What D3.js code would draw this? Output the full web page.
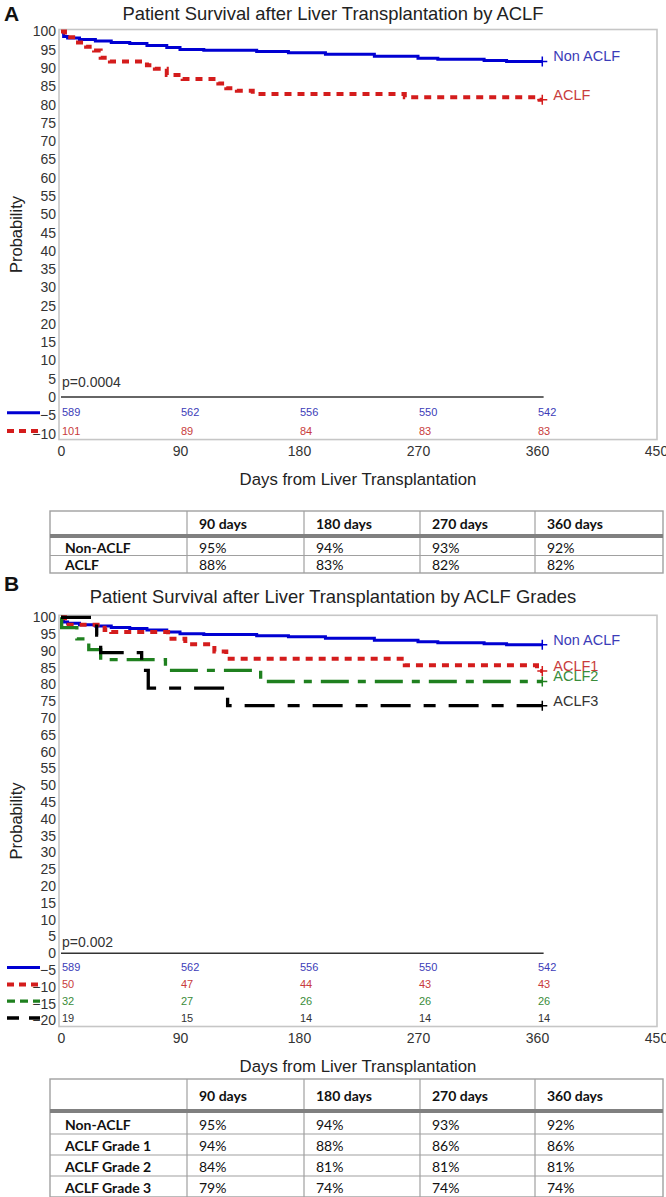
<!DOCTYPE html>
<html><head><meta charset="utf-8">
<script src="https://cdn.jsdelivr.net/npm/d3@7"></script>
<style>
body{margin:0;background:#fff}
svg{display:block}
</style>
</head><body>
<svg id="c" width="666" height="1197"></svg>
<script>
// ---------------- data ----------------
const xTicks = [0, 90, 180, 270, 360, 450];
const riskDays = [0, 90, 180, 270, 360];
const endDay = 364;
const yTicksA = [100,95,90,85,80,75,70,65,60,55,50,45,40,35,30,25,20,15,10,5,0,-5,-10];
const yTicksB = [100,95,90,85,80,75,70,65,60,55,50,45,40,35,30,25,20,15,10,5,0,-5,-10,-15,-20];

// Kaplan-Meier step points [day, survival %]
const nonAclf = [[0,100],[2,98.6],[5,98.2],[14,97.8],[26,97.4],[38,97.0],[52,96.7],[65,96.2],[80,95.6],[90,95.1],[108,94.9],[148,94.5],[172,94.2],[200,93.8],[237,93.2],[270,92.7],[285,92.4],[320,92.1],[337,91.8]];
const aclf = [[0,100],[3,98.4],[11,97.0],[19,95.8],[25,94.8],[30,92.8],[37,91.8],[65,90.8],[71,89.8],[80,88.1],[92,87.0],[119,85.8],[125,84.5],[133,83.8],[145,82.9],[260,82.0],[362,81.3]];
const aclf1 = [[0,100],[3,97.8],[33,96.2],[38,95.6],[81,93.6],[94,92.0],[116,89.8],[125,87.7],[260,85.7],[360,84.0]];
const aclf2 = [[0,100],[0.5,96.9],[12,93.6],[21,90.4],[30,87.4],[79,84.2],[151,80.9]];
const aclf3 = [[0,100],[27,94.7],[30,89.5],[61,84.2],[66,78.9],[126,73.7]];

// numbers at risk
const riskNonAclf = [589, 562, 556, 550, 542];
const riskAclf = [101, 89, 84, 83, 83];
const riskG1 = [50, 47, 44, 43, 43];
const riskG2 = [32, 27, 26, 26, 26];
const riskG3 = [19, 15, 14, 14, 14];

// tables
const tableCols = ["90 days", "180 days", "270 days", "360 days"];
const tableARows = ["Non-ACLF", "ACLF"];
const tableBRows = ["Non-ACLF", "ACLF Grade 1", "ACLF Grade 2", "ACLF Grade 3"];
const survNonAclf = [95, 94, 93, 92];
const survAclf = [88, 83, 82, 82];
const survG1 = [94, 88, 86, 86];
const survG2 = [84, 81, 81, 81];
const survG3 = [79, 74, 74, 74];

// ---------------- drawing ----------------
const FONT = '"Liberation Sans", Arial, sans-serif';
const TFONT = 'Lato, "Open Sans", sans-serif';
const svg = d3.select("#c");
svg.append("rect").attr("width",666).attr("height",1197).attr("fill","#fff");
const x = d3.scaleLinear().domain([0, 450]).range([61, 656]);

const BLUE = {line:"#0000d2", text:"#3c3cb8", dash:null, w:3, legDash:null};
const RED = {line:"#d41c1c", text:"#c83c3c", dash:"7,6", w:4, legDash:"7,5"};
const GREEN = {line:"#1f801f", text:"#3a8c3a", dash:"28,9,8,9", w:3.3, legDash:"8,5"};
const BLACK = {line:"#000", text:"#333", dash:"30,13,12,13", w:3.3, legDash:"12,10"};

function panel(p) {
  const y = d3.scaleLinear().domain([0, 100]).range([p.y0, p.y100]);
  const yMin = d3.min(p.yTicks);
  const top = y(100) - 2, bottom = y(yMin) + 6;
  const g = svg.append("g");

  g.append("text").attr("x", 4).attr("y", p.letterY).attr("font-family", FONT)
    .attr("font-weight", "bold").attr("font-size", 21).attr("fill", "#111").text(p.letter);
  g.append("text").attr("x", 333).attr("y", p.titleY).attr("text-anchor", "middle")
    .attr("font-family", FONT).attr("font-size", 18.4).attr("fill", "#222").text(p.title);

  g.append("rect").attr("x", 59).attr("y", top).attr("width", 598).attr("height", bottom - top)
    .attr("fill", "none").attr("stroke", "#c6c6c6").attr("stroke-width", 1.6);

  const ya = g.append("g").attr("transform", "translate(59,0)")
    .call(d3.axisLeft(y).tickValues(p.yTicks).tickSize(0).tickPadding(3).tickFormat(d3.format("d")));
  ya.select(".domain").remove();
  ya.attr("font-family", FONT).attr("font-size", 14);
  ya.selectAll("text").attr("fill", "#333");

  const xa = g.append("g").attr("transform", `translate(0,${bottom})`)
    .call(d3.axisBottom(x).tickValues(xTicks).tickSize(0).tickPadding(7));
  xa.select(".domain").remove();
  xa.attr("font-family", FONT).attr("font-size", 14);
  xa.selectAll("text").attr("fill", "#333");

  g.append("text").attr("transform", `translate(22,${(top + bottom) / 2}) rotate(-90)`)
    .attr("text-anchor", "middle").attr("font-family", FONT).attr("font-size", 16.5)
    .attr("fill", "#222").text("Probability");
  g.append("text").attr("x", 358).attr("y", bottom + 45).attr("text-anchor", "middle")
    .attr("font-family", FONT).attr("font-size", 16.8).attr("fill", "#222")
    .text("Days from Liver Transplantation");

  g.append("line").attr("x1", x(0)).attr("x2", x(365)).attr("y1", y(0)).attr("y2", y(0))
    .attr("stroke", "#333").attr("stroke-width", 1.5);
  g.append("text").attr("x", x(0) + 1).attr("y", y(p.pAt)).attr("dominant-baseline", "central")
    .attr("font-family", FONT).attr("font-size", 14).attr("fill", "#333").text(p.pText);

  const line = d3.line().x(d => x(d[0])).y(d => y(d[1])).curve(d3.curveStepAfter);
  p.series.forEach((s, i) => {
    const last = s.data[s.data.length - 1][1];
    const pts = s.data.concat([[endDay, last]]);
    const path = g.append("path").attr("d", line(pts)).attr("fill", "none")
      .attr("stroke", s.st.line).attr("stroke-width", s.st.w);
    if (s.st.dash) path.attr("stroke-dasharray", s.st.dash);
    const cx = x(endDay), cy = y(last);
    g.append("path").attr("d", `M${cx - 5},${cy}H${cx + 5}M${cx},${cy - 5}V${cy + 5}`)
      .attr("stroke", s.st.line).attr("stroke-width", 1.5);
    g.append("text").attr("x", cx + 11).attr("y", cy - 5).attr("dominant-baseline", "central")
      .attr("font-family", FONT).attr("font-size", 14.5).attr("fill", s.st.text).text(s.label);

    const ry = y(-5 * (i + 1));
    const leg = g.append("line").attr("x1", 7).attr("x2", 40).attr("y1", ry - 2.5).attr("y2", ry - 2.5)
      .attr("stroke", s.st.line).attr("stroke-width", s.st.w);
    if (s.st.legDash) leg.attr("stroke-dasharray", s.st.legDash);
    s.risk.forEach((v, j) => {
      g.append("text").attr("x", x(riskDays[j]) + 1).attr("y", ry - 3).attr("dominant-baseline", "central")
        .attr("font-family", FONT).attr("font-size", 11).attr("fill", s.st.text).text(v);
    });
  });
}

panel({
  letter: "A", letterY: 21, title: "Patient Survival after Liver Transplantation by ACLF", titleY: 20,
  y0: 397, y100: 31.5, yTicks: yTicksA, pAt: 4, pText: "p=0.0004",
  series: [
    {data: nonAclf, st: BLUE, label: "Non ACLF", risk: riskNonAclf},
    {data: aclf, st: RED, label: "ACLF", risk: riskAclf}
  ]
});
panel({
  letter: "B", letterY: 591, title: "Patient Survival after Liver Transplantation by ACLF Grades", titleY: 603,
  y0: 953.3, y100: 617.3, yTicks: yTicksB, pAt: 3.5, pText: "p=0.002",
  series: [
    {data: nonAclf, st: BLUE, label: "Non ACLF", risk: riskNonAclf},
    {data: aclf1, st: RED, label: "ACLF1", risk: riskG1},
    {data: aclf2, st: GREEN, label: "ACLF2", risk: riskG2},
    {data: aclf3, st: BLACK, label: "ACLF3", risk: riskG3}
  ]
});

function table(top, headH, rowH, names, vals) {
  const cols = [50, 187, 304, 420, 535, 663];
  const g = svg.append("g");
  const thick = top + headH;
  const bodyTop = thick + 4;
  const bottom = bodyTop + rowH * names.length;
  tableCols.forEach((c, j) => {
    g.append("text").attr("x", cols[j + 1] + 12).attr("y", top + headH / 2 + 1)
      .attr("dominant-baseline", "central").attr("font-family", TFONT).attr("font-weight", "bold")
      .attr("font-size", 14).attr("fill", "#111").text(c);
  });
  names.forEach((n, i) => {
    const cy = bodyTop + rowH * i + rowH / 2 + 0.5;
    g.append("text").attr("x", cols[0] + 15).attr("y", cy).attr("dominant-baseline", "central")
      .attr("font-family", TFONT).attr("font-weight", "bold").attr("font-size", 14).attr("fill", "#111").text(n);
    vals[i].forEach((v, j) => {
      g.append("text").attr("x", cols[j + 1] + 12).attr("y", cy).attr("dominant-baseline", "central")
        .attr("font-family", TFONT).attr("font-size", 14).attr("fill", "#111").text(v + "%");
    });
    if (i > 0) g.append("line").attr("x1", cols[0]).attr("x2", cols[5]).attr("y1", bodyTop + rowH * i)
      .attr("y2", bodyTop + rowH * i).attr("stroke", "#a0a0a0").attr("stroke-width", 1.2);
  });
  cols.slice(1, 5).forEach(cx => {
    g.append("line").attr("x1", cx).attr("x2", cx).attr("y1", top).attr("y2", bottom)
      .attr("stroke", "#a0a0a0").attr("stroke-width", 1.2);
  });
  g.append("rect").attr("x", cols[0]).attr("y", top).attr("width", cols[5] - cols[0]).attr("height", bottom - top)
    .attr("fill", "none").attr("stroke", "#a0a0a0").attr("stroke-width", 1.4);
  g.append("rect").attr("x", cols[0]).attr("y", thick).attr("width", cols[5] - cols[0]).attr("height", 4)
    .attr("fill", "#808080");
}
table(511, 23, 17.5, tableARows, [survNonAclf, survAclf]);
table(1079, 30, 21, tableBRows, [survNonAclf, survG1, survG2, survG3]);
</script>
</body></html>
